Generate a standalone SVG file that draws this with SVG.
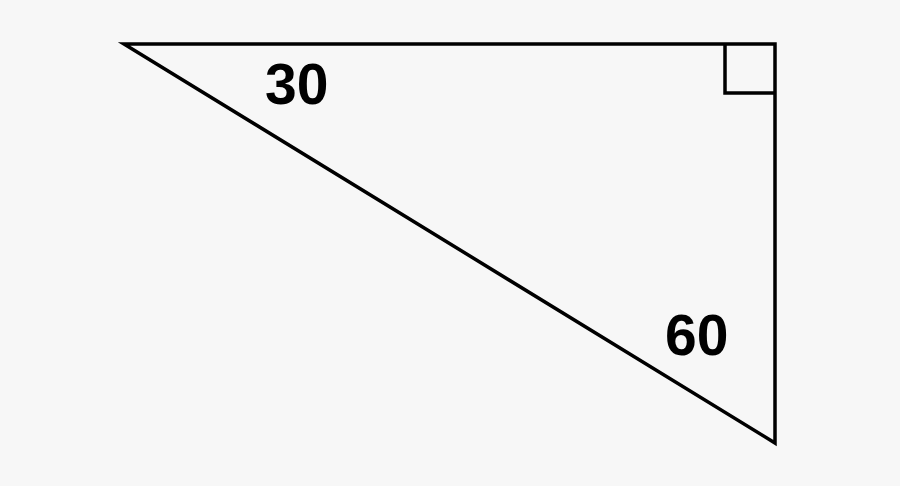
<svg xmlns="http://www.w3.org/2000/svg" width="900" height="486" viewBox="0 0 900 486">
<style>
.ln{fill:none;stroke:#000;stroke-width:3.5;stroke-linejoin:miter}
.lb{font-family:"Liberation Sans",Arial,sans-serif;font-weight:bold;font-size:57px;fill:#000}
</style>
<rect width="900" height="486" fill="#f7f7f7"/>
<g id="triangle">
<polygon class="ln" points="124,44 775,44 775,443"/>
<polyline class="ln" points="725,44 725,93 775,93"/>
</g>
<g id="labels">
<text class="lb" x="265" y="104">30</text>
<text class="lb" x="665" y="355">60</text>
</g>
</svg>
